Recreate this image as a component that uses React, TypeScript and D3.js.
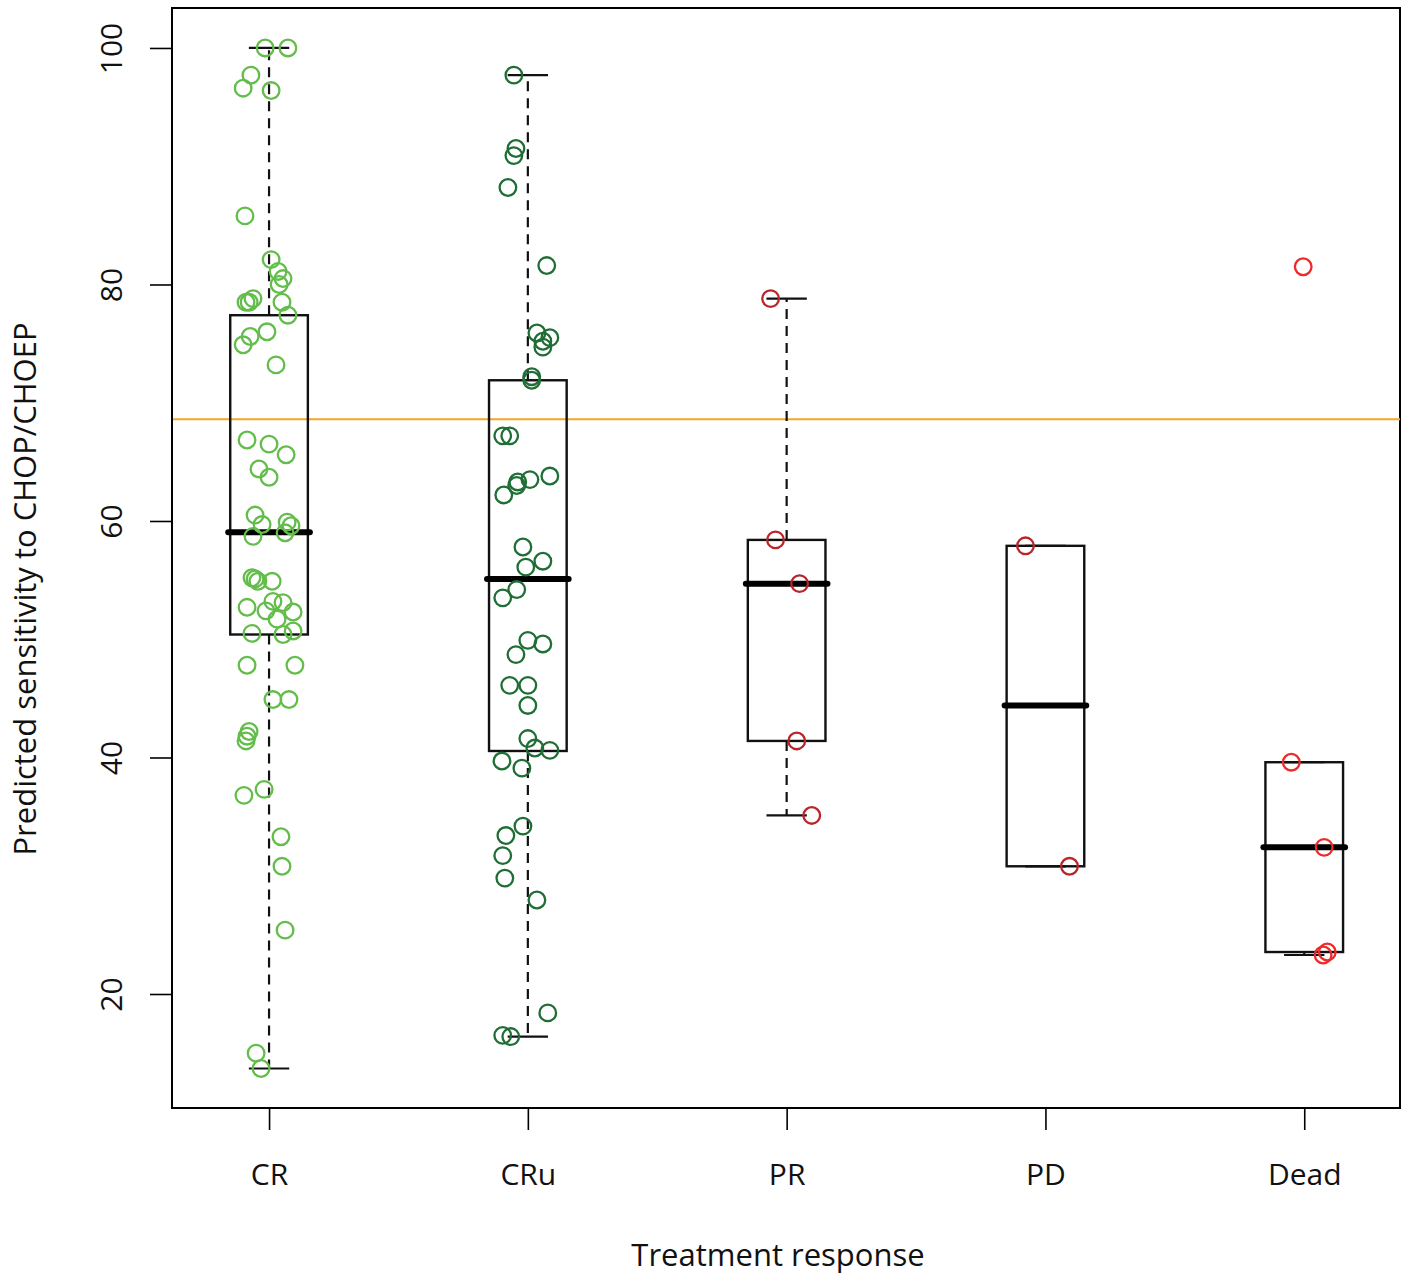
import React, { useRef, useEffect } from "react";
import * as d3 from "d3";

// groups on the x axis
const categories = ["CR", "CRu", "PR", "PD", "Dead"];
const yTicks = [20, 40, 60, 80, 100];
const cutoff = 68.6;

// box statistics: [lower whisker, Q1, median, Q3, upper whisker]
const boxLow = [13.7, 16.4, 35.1, 30.8, 23.3];
const boxQ1 = [50.4, 40.55, 41.4, 30.8, 23.55];
const boxMedian = [59.05, 55.1, 54.7, 44.4, 32.4];
const boxQ3 = [77.4, 71.9, 58.4, 57.9, 39.6];
const boxHigh = [100, 97.7, 78.8, 57.9, 39.6];

// observed values, per group, with their horizontal jitter (in category units)
const crValues = [100, 100, 97.7, 96.6, 96.4, 85.8, 82.1, 81.1, 80.5, 80.0, 78.8, 78.5, 78.5, 78.5, 77.4, 76.0, 75.6, 74.9, 73.2,
  66.85, 66.5, 65.6, 64.4, 63.7, 60.5, 59.7, 59.9, 59.6, 58.7, 59.0, 55.2, 55.1, 54.9, 54.9, 52.7, 53.2, 53.1, 52.4, 51.7, 52.3,
  50.5, 50.4, 50.7, 47.8, 47.8, 44.9, 44.9, 42.2, 41.8, 41.4, 36.8, 37.3, 33.3, 30.8, 25.4, 15.0, 13.7];
const crJitter = [-0.015, 0.073, -0.07, -0.1, 0.008, -0.093, 0.008, 0.035, 0.054, 0.039, -0.062, -0.077, -0.089, 0.05, 0.073, -0.008, -0.073, -0.1, 0.027,
  -0.085, 0, 0.066, -0.039, 0, -0.054, -0.027, 0.07, 0.085, -0.062, 0.062, -0.066, -0.054, -0.043, 0.012, -0.085, 0.015, 0.054, -0.012, 0.031, 0.093,
  -0.066, 0.054, 0.093, -0.085, 0.1, 0.015, 0.077, -0.077, -0.085, -0.089, -0.097, -0.019, 0.046, 0.05, 0.062, -0.05, -0.031];

const cruValues = [97.7, 91.5, 90.9, 88.2, 81.6, 75.9, 75.5, 75.2, 74.7, 72.2, 71.9, 67.2, 67.2, 63.8, 63.5, 63.3, 63.0, 62.2,
  57.8, 56.6, 56.1, 54.2, 53.5, 49.9, 49.6, 48.7, 46.1, 46.1, 44.4, 41.6, 40.8, 40.6, 39.7, 39.1, 34.2, 33.4, 31.7, 29.8, 27.95,
  18.4, 16.5, 16.4];
const cruJitter = [-0.054, -0.046, -0.054, -0.077, 0.073, 0.035, 0.085, 0.058, 0.058, 0.015, 0.015, -0.097, -0.07, 0.085, 0.008, -0.039, -0.043, -0.093,
  -0.019, 0.058, -0.008, -0.043, -0.097, 0, 0.058, -0.046, -0.07, 0, 0, 0, 0.027, 0.085, -0.1, -0.023, -0.019, -0.085, -0.097, -0.089, 0.035,
  0.077, -0.097, -0.066];

const prValues = [78.8, 58.4, 54.7, 41.4, 35.1];
const prJitter = [-0.062, -0.043, 0.05, 0.039, 0.097];

const pdValues = [57.9, 30.8];
const pdJitter = [-0.077, 0.093];

const deadValues = [81.5, 39.6, 32.4, 23.3, 23.55];
const deadJitter = [-0.004, -0.05, 0.077, 0.073, 0.089];

const groupValues = [crValues, cruValues, prValues, pdValues, deadValues];
const groupJitter = [crJitter, cruJitter, prJitter, pdJitter, deadJitter];
const groupColors = ["#63bd4a", "#1f6e35", "#b8262c", "#b8262c", "#ee2a2a"];

const W = 1403;
const H = 1277;
const FONT = "'Open Sans', sans-serif";

const App = () => {
  const svgRef = useRef(null);

  useEffect(() => {
    const svg = d3.select(svgRef.current);
    svg.selectAll("*").remove();

    const left = 172, right = 1400, top = 8, bottom = 1108;
    const x = d3.scaleLinear().domain([0.625, 5.37]).range([left, right]);
    const y = d3.scaleLinear().domain([10.36, 103.38]).range([bottom, top]);

    // frame
    svg.append("rect")
      .attr("x", left).attr("y", top)
      .attr("width", right - left).attr("height", bottom - top)
      .attr("fill", "none").attr("stroke", "#000").attr("stroke-width", 2);

    // y axis
    const yAxis = svg.append("g").attr("transform", `translate(${left},0)`)
      .call(d3.axisLeft(y).tickValues(yTicks).tickSize(22).tickFormat(d3.format("d")));
    yAxis.select(".domain").remove();
    yAxis.selectAll("line").attr("stroke", "#000").attr("stroke-width", 1.6);
    yAxis.selectAll("text")
      .attr("x", 0).attr("dy", 0)
      .attr("transform", "translate(-50,0) rotate(-90)")
      .attr("text-anchor", "middle")
      .attr("fill", "#111")
      .style("font-family", FONT).style("font-size", "30px");

    // x axis
    const xAxis = svg.append("g").attr("transform", `translate(0,${bottom})`)
      .call(d3.axisBottom(x).tickValues(d3.range(1, categories.length + 1))
        .tickSize(22).tickPadding(34).tickFormat((d) => categories[+d - 1]));
    xAxis.select(".domain").remove();
    xAxis.selectAll("line").attr("stroke", "#000").attr("stroke-width", 1.6);
    xAxis.selectAll("text")
      .attr("fill", "#111")
      .style("font-family", FONT).style("font-size", "30px");

    // cutoff line
    svg.append("line")
      .attr("x1", left + 1).attr("x2", right)
      .attr("y1", y(cutoff)).attr("y2", y(cutoff))
      .attr("stroke", "#f5a623").attr("stroke-width", 2);

    // boxplots
    const half = 0.15;
    const cap = 0.078;
    const boxes = svg.append("g").selectAll("g")
      .data(categories.map((c, i) => i))
      .join("g");
    boxes.append("line")
      .attr("x1", (i) => x(i + 1)).attr("x2", (i) => x(i + 1))
      .attr("y1", (i) => y(boxQ3[i])).attr("y2", (i) => y(boxHigh[i]))
      .attr("stroke", "#111").attr("stroke-width", 2.2).attr("stroke-dasharray", "10,7");
    boxes.append("line")
      .attr("x1", (i) => x(i + 1)).attr("x2", (i) => x(i + 1))
      .attr("y1", (i) => y(boxQ1[i])).attr("y2", (i) => y(boxLow[i]))
      .attr("stroke", "#111").attr("stroke-width", 2.2).attr("stroke-dasharray", "10,7");
    boxes.append("line")
      .attr("x1", (i) => x(i + 1 - cap)).attr("x2", (i) => x(i + 1 + cap))
      .attr("y1", (i) => y(boxHigh[i])).attr("y2", (i) => y(boxHigh[i]))
      .attr("stroke", "#111").attr("stroke-width", 2.2);
    boxes.append("line")
      .attr("x1", (i) => x(i + 1 - cap)).attr("x2", (i) => x(i + 1 + cap))
      .attr("y1", (i) => y(boxLow[i])).attr("y2", (i) => y(boxLow[i]))
      .attr("stroke", "#111").attr("stroke-width", 2.2);
    boxes.append("rect")
      .attr("x", (i) => x(i + 1 - half))
      .attr("width", (i) => x(i + 1 + half) - x(i + 1 - half))
      .attr("y", (i) => y(boxQ3[i]))
      .attr("height", (i) => y(boxQ1[i]) - y(boxQ3[i]))
      .attr("fill", "none").attr("stroke", "#111").attr("stroke-width", 2.4);
    boxes.append("line")
      .attr("x1", (i) => x(i + 1 - half) - 2).attr("x2", (i) => x(i + 1 + half) + 2)
      .attr("y1", (i) => y(boxMedian[i])).attr("y2", (i) => y(boxMedian[i]))
      .attr("stroke", "#000").attr("stroke-width", 6).attr("stroke-linecap", "round");

    // points
    groupValues.forEach((vals, g) => {
      svg.append("g").selectAll("circle")
        .data(vals)
        .join("circle")
        .attr("cx", (v, k) => x(g + 1 + groupJitter[g][k]))
        .attr("cy", (v) => y(v))
        .attr("r", 8.3)
        .attr("fill", "none")
        .attr("stroke", groupColors[g])
        .attr("stroke-width", 2.3);
    });

    // axis titles
    svg.append("text")
      .attr("x", (left + right) / 2 - 8).attr("y", 1266)
      .attr("text-anchor", "middle")
      .attr("fill", "#111")
      .style("font-family", FONT).style("font-size", "31px")
      .text("Treatment response");
    svg.append("text")
      .attr("transform", `translate(36,${589}) rotate(-90)`)
      .attr("text-anchor", "middle")
      .attr("fill", "#111")
      .style("font-family", FONT).style("font-size", "31px")
      .text("Predicted sensitivity to CHOP/CHOEP");
  }, []);

  return (
    <div style={{ position: "absolute", left: 0, top: 0 }}>
      <svg ref={svgRef} width={W} height={H} style={{ display: "block", background: "#fff" }} />
    </div>
  );
};

export default App;
